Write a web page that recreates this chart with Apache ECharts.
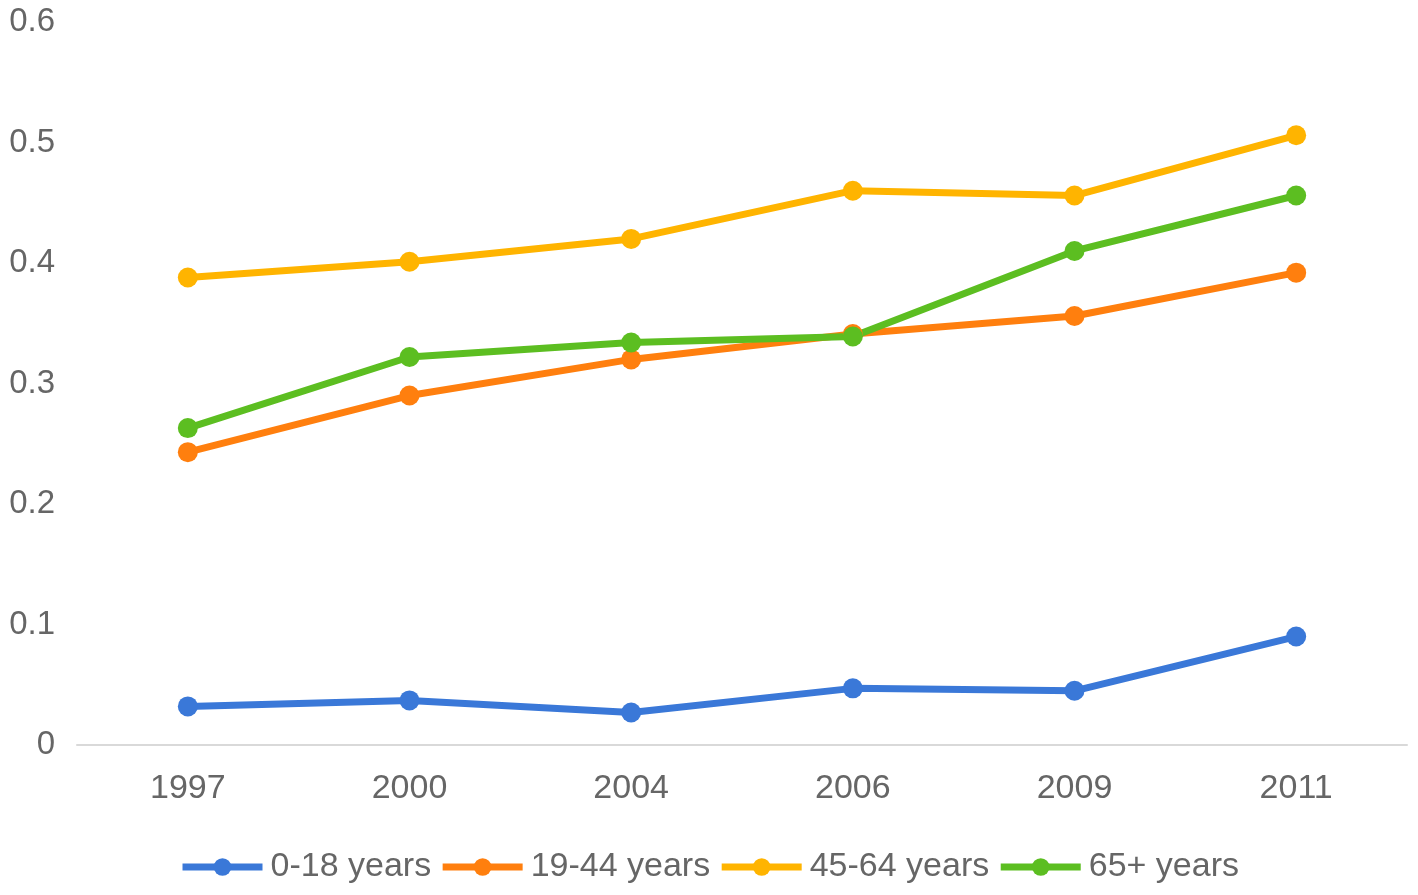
<!DOCTYPE html>
<html>
<head>
<meta charset="utf-8">
<script src="https://cdn.jsdelivr.net/npm/echarts@6/dist/echarts.min.js"></script>
<style>html,body{margin:0;padding:0;background:#fff;}#c{width:1418px;height:895px;}</style>
</head>
<body>
<div id="c"></div>
<script>
var categories = ['1997', '2000', '2004', '2006', '2009', '2011'];
var seriesNames = ['0-18 years', '19-44 years', '45-64 years', '65+ years'];
var s0_18 = [0.032, 0.037, 0.027, 0.047, 0.045, 0.09];
var s19_44 = [0.243, 0.29, 0.32, 0.341, 0.356, 0.392];
var s45_64 = [0.388, 0.401, 0.42, 0.46, 0.456, 0.506];
var s65 = [0.263, 0.322, 0.334, 0.339, 0.41, 0.456];
var colors = ['#3a78d8', '#ff7f0e', '#ffb400', '#5cbe21'];
var values = [s0_18, s19_44, s45_64, s65];

var chart = echarts.init(document.getElementById('c'));
var font = '"Liberation Sans", Arial, Helvetica, sans-serif';
chart.setOption({
  animation: false,
  color: colors,
  textStyle: {fontFamily: font},
  grid: {left: 77, right: 11, top: 22, bottom: 150},
  legend: {
    bottom: 6,
    left: 'center',
    itemWidth: 80,
    itemHeight: 22,
    itemGap: 8,
    lineStyle: {width: 7},
    textStyle: {fontSize: 34, color: '#666', fontFamily: font, padding: [0, 0, 0, 3]},
    data: seriesNames
  },
  xAxis: {
    type: 'category',
    data: categories,
    boundaryGap: true,
    axisLine: {show: true, lineStyle: {color: '#d9d9d9', width: 2}},
    axisTick: {show: false},
    axisLabel: {fontSize: 34, color: '#666', margin: 27, fontFamily: font}
  },
  yAxis: {
    type: 'value',
    min: 0,
    max: 0.6,
    interval: 0.1,
    axisLine: {show: false},
    axisTick: {show: false},
    splitLine: {show: false},
    axisLabel: {fontSize: 33, color: '#666', margin: 22, fontFamily: font,
      formatter: function (v) { return String(Math.round(v * 10) / 10); }}
  },
  series: seriesNames.map(function (n, i) {
    return {
      name: n,
      type: 'line',
      data: values[i],
      symbol: 'circle',
      symbolSize: 20,
      lineStyle: {width: 7, color: colors[i]},
      itemStyle: {color: colors[i]}
    };
  })
});
</script>
</body>
</html>
